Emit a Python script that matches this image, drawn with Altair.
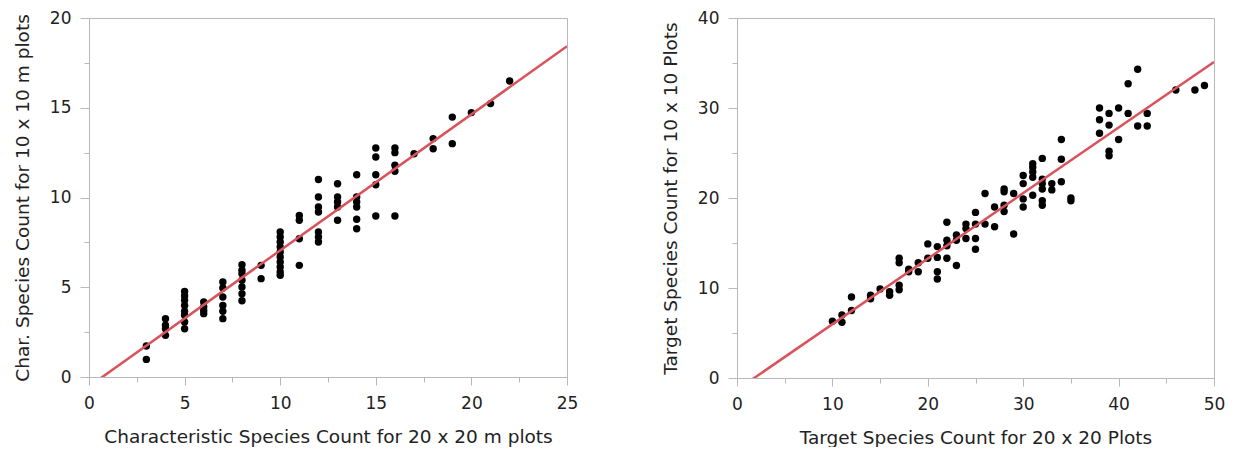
import altair as alt
import pandas as pd

# Left panel: characteristic species counts (20x20 m vs 10x10 m plots)
char_x = [3, 3,
          4, 4, 4, 4,
          5, 5, 5, 5, 5, 5, 5, 5,
          6, 6, 6, 6,
          7, 7, 7, 7, 7, 7,
          8, 8, 8, 8, 8, 8, 8,
          9, 9,
          10, 10, 10, 10, 10, 10, 10, 10, 10, 10,
          11, 11, 11, 11,
          12, 12, 12, 12, 12, 12, 12,
          13, 13, 13, 13, 13,
          14, 14, 14, 14, 14, 14,
          15, 15, 15, 15, 15,
          16, 16, 16, 16, 16,
          17, 18, 18, 19, 19, 20, 21, 22]
char_y = [1.73, 0.98,
          3.25, 2.88, 2.69, 2.32,
          4.77, 4.51, 4.27, 3.99, 3.66, 3.44, 3.06, 2.69,
          4.18, 3.90, 3.70, 3.53,
          5.29, 4.96, 4.46, 3.99, 3.66, 3.25,
          6.25, 5.95, 5.75, 5.39, 5.01, 4.64, 4.25,
          6.22, 5.48,
          8.08, 7.80, 7.52, 7.24, 6.96, 6.69, 6.41, 6.13, 5.85, 5.67,
          9.00, 8.73, 7.70, 6.22,
          11.00, 10.03, 9.47, 9.19, 8.08, 7.80, 7.52,
          10.77, 10.03, 9.75, 9.47, 8.73,
          11.27, 10.03, 9.75, 9.47, 8.79, 8.26,
          12.76, 12.26, 11.27, 10.71, 8.97,
          12.76, 12.50, 11.80, 11.46, 8.97,
          12.44, 13.28, 12.72, 14.48, 13.00, 14.73, 15.23, 16.49]

# Right panel: target species counts (20x20 vs 10x10 plots)
target_x = [10, 11, 11, 12, 12, 14, 14, 15, 16, 16,
            17, 17, 17, 17, 18, 18, 19, 19, 20, 20,
            21, 21, 21, 21, 22, 22, 22, 22, 23, 23, 23,
            24, 24, 24, 25, 25, 25, 25, 26, 26, 27, 27,
            28, 28, 28, 28, 29, 29, 30, 30, 30, 30,
            31, 31, 31, 31, 31, 32, 32, 32, 32, 32, 32,
            33, 33, 34, 34, 34, 35, 35,
            38, 38, 38, 39, 39, 39, 39, 40, 40, 41, 41, 42, 42, 43, 43,
            46, 48, 49]
target_y = [6.3, 7.0, 6.2, 9.0, 7.5, 9.2, 8.8, 9.9, 9.6, 9.2,
            13.3, 12.8, 10.3, 9.8, 12.1, 11.8, 12.8, 11.8, 14.9, 13.3,
            14.6, 13.4, 11.8, 11.0, 17.3, 15.3, 14.7, 13.3, 15.9, 15.3, 12.5,
            17.1, 16.6, 15.5, 18.4, 17.1, 15.5, 14.3, 20.5, 17.1, 19.0, 16.8,
            21.0, 20.7, 19.2, 18.5, 20.5, 16.0, 22.5, 21.6, 19.9, 19.0,
            23.8, 23.4, 22.9, 22.3, 20.3, 24.4, 22.1, 21.6, 21.0, 19.7, 19.2,
            21.6, 20.9, 26.5, 24.3, 21.8, 20.0, 19.7,
            30.0, 28.7, 27.2, 29.4, 28.1, 25.2, 24.7, 30.0, 26.5, 32.7, 29.4, 34.3, 28.0, 29.4, 28.0,
            32.0, 32.0, 32.5]

left_x_major = [0, 5, 10, 15, 20, 25]
left_x_minor = [2.5, 7.5, 12.5, 17.5, 22.5]
left_y_major = [0, 5, 10, 15, 20]
left_y_minor = [2.5, 7.5, 12.5, 17.5]
right_x_major = [0, 10, 20, 30, 40, 50]
right_x_minor = [5, 15, 25, 35, 45]
right_y_major = [0, 10, 20, 30, 40]
right_y_minor = [5, 15, 25, 35]

GREY = "#b8b8b8"
TEXT = "#222222"
FONT = "DejaVu Sans"
RED = "#d9535c"


def panel(xs, ys, xmax, ymax, xmaj, xmin, ymaj, ymin, xtitle, ytitle, w, h):
    df = pd.DataFrame({"x": xs, "y": ys})
    base = alt.Chart(df)
    xsc = alt.Scale(domain=[0, xmax], nice=False, zero=False)
    ysc = alt.Scale(domain=[0, ymax], nice=False, zero=False)
    pts = base.mark_circle(size=55, color="black", opacity=1).encode(
        x=alt.X("x:Q", scale=xsc,
                axis=alt.Axis(values=xmaj, title=xtitle, tickSize=8, labelPadding=10,
                              titlePadding=16, format="d", labelFlush=False)),
        y=alt.Y("y:Q", scale=ysc,
                axis=alt.Axis(values=ymaj, title=ytitle, tickSize=9, labelPadding=9,
                              titlePadding=17, format="d", labelFlush=False)),
    )
    line = base.transform_regression("x", "y", extent=[0, xmax]).mark_line(
        color=RED, strokeWidth=2.5, clip=True
    ).encode(
        x=alt.X("x:Q", scale=xsc,
                axis=alt.Axis(values=xmin, orient="bottom", labels=False, title="",
                              tickSize=5, domain=False)),
        y=alt.Y("y:Q", scale=ysc,
                axis=alt.Axis(values=ymin, orient="left", labels=False, title="",
                              tickSize=5, domain=False)),
    )
    return alt.layer(pts, line).resolve_axis(x="independent", y="independent").properties(
        width=w, height=h)


left = panel(char_x, char_y, 25, 20, left_x_major, left_x_minor, left_y_major, left_y_minor,
             "Characteristic Species Count for 20 x 20 m plots",
             "Char. Species Count for 10 x 10 m plots", 478, 359)
right = panel(target_x, target_y, 50, 40, right_x_major, right_x_minor, right_y_major,
              right_y_minor,
              "Target Species Count for 20 x 20 Plots",
              "Target Species Count for 10 x 10 Plots", 477, 360)

chart = alt.hconcat(left, right, spacing=81).properties(
    padding={"left": 4, "top": 0, "right": 0, "bottom": 0}
).configure_view(
    stroke=GREY, strokeWidth=1
).configure_axis(
    grid=False, domainColor=GREY, tickColor=GREY, domainWidth=1, tickWidth=1,
    labelColor=TEXT, titleColor=TEXT, labelFont=FONT, titleFont=FONT,
    labelFontSize=17, titleFontSize=18.5, titleFontWeight="normal"
)

chart.save("out.html", embed_options={"renderer": "svg", "actions": False})
